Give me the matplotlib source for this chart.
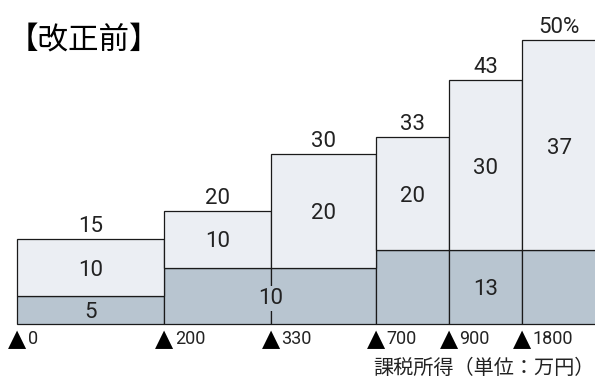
import numpy as np
import matplotlib
matplotlib.use("Agg")
import matplotlib.pyplot as plt
from matplotlib.transforms import offset_copy

plt.rcParams["font.family"] = ["Noto Sans CJK JP", "DejaVu Sans"]

# 課税所得の区分（万円）と税率（%）
brackets = ["0", "200", "330", "700", "900", "1800"]
lower_rate = [5, 10, 10, 13, 13, 13]
upper_rate = [10, 10, 20, 20, 30, 37]
total_rate = [a + b for a, b in zip(lower_rate, upper_rate)]

# 下段ラベル：(先頭区分, 末尾区分, 表示値)
lower_labels = [(0, 0, "5"), (1, 2, "10"), (4, 4, "13")]

# 各区分の表示幅（実際の所得幅ではない）
slot_w = np.array([2.0, 1.45, 1.43, 1.0, 1.0, 1.1])
left = np.concatenate([[0], np.cumsum(slot_w)[:-1]])

light = "#EBEEF3"
dark = "#B8C5D0"
edge = "#1a1a1a"
num_font = ["Roboto", "DejaVu Sans"]

fig = plt.figure(figsize=(5.95, 3.82), dpi=100)
ax = fig.add_axes([0, 0, 1, 1])
ax.set_xlim(-0.238, 7.868)
ax.set_ylim(-10.16, 57.1)
ax.axis("off")

ax.bar(left, lower_rate, width=slot_w, align="edge", color=dark,
       edgecolor=edge, linewidth=0.9)
ax.bar(left, upper_rate, width=slot_w, bottom=lower_rate, align="edge",
       color=light, edgecolor=edge, linewidth=0.9)

fs = 16
for i in range(len(brackets)):
    cx = left[i] + slot_w[i] / 2
    if i == len(brackets) - 1:
        cx = left[i] + 0.5
    ax.text(cx, lower_rate[i] + upper_rate[i] / 2 - 0.5, str(upper_rate[i]),
            ha="center", va="center", fontsize=fs, color="#222",
            family=num_font)
    lab = f"{total_rate[i]}%" if i == len(brackets) - 1 else str(total_rate[i])
    ax.text(cx, total_rate[i] + 2.2, lab, ha="center", va="center",
            fontsize=fs, color="#222", family=num_font)

for a, b, lab in lower_labels:
    if a == b:
        cx = left[a] + slot_w[a] / 2
        bbox = None
    else:
        cx = left[b]
        bbox = dict(facecolor=dark, edgecolor="none", pad=1.5)
    ax.text(cx, lower_rate[a] / 2 - 0.4, lab, ha="center", va="center",
            fontsize=fs, color="#222", bbox=bbox, family=num_font)

# 区分の境界に▲と金額
num_tr = offset_copy(ax.transData, fig=fig, x=7.5, y=0, units="points")
for i, b in enumerate(brackets):
    ax.text(left[i], -2.6, "▲", ha="center", va="center", fontsize=17,
            family="DejaVu Sans", color="black")
    ax.text(left[i], -2.6, b, ha="left", va="center", fontsize=13,
            color="#222", transform=num_tr, family=num_font)

ax.text(7.86, -7.7, "課税所得（単位：万円）", ha="right", va="center",
        fontsize=14.5, color="#222")

title_tr = offset_copy(ax.transData, fig=fig, x=-7, y=0, units="points")
ax.text(0, 50.0, "【改正前】", ha="left", va="center", fontsize=22,
        color="black", transform=title_tr)

fig.savefig("out.png", dpi=100)
